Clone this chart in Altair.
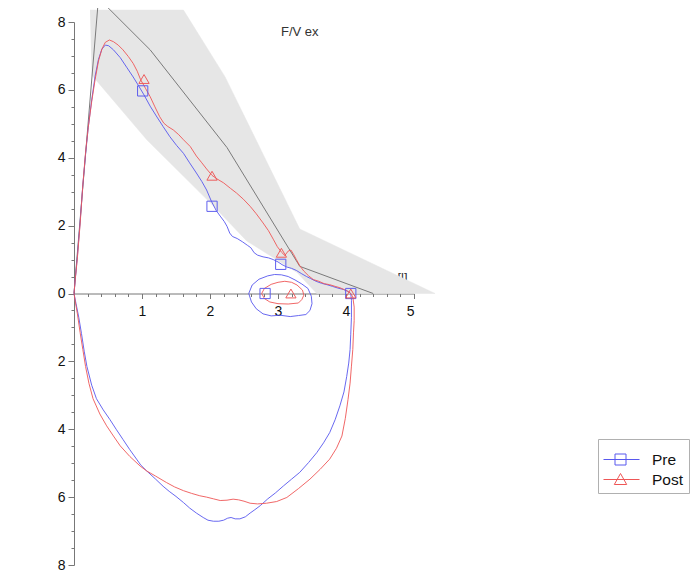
import altair as alt
import pandas as pd

# ---------------- data (volume [l], flow [l/s]) ----------------
pre_loop_v = [0.00,0.02,0.05,0.09,0.13,0.17,0.21,0.26,0.31,0.36,0.41,0.46,0.51,0.58,0.68,0.78,0.87,0.95,1.03,1.12,1.22,1.31,1.41,1.51,1.61,1.70,1.80,1.88,1.95,2.02,2.09,2.15,2.21,2.25,2.29,2.33,2.40,2.48,2.55,2.60,2.65,2.70,2.78,2.86,2.93,3.00,3.06,3.13,3.20,3.27,3.35,3.42,3.48,3.56,3.64,3.72,3.80,3.88,3.96,4.02,4.07,
              4.08,4.08,4.07,4.06,4.04,4.01,3.97,3.91,3.84,3.76,3.67,3.57,3.45,3.32,3.20,3.08,2.96,2.85,2.74,2.66,2.59,2.52,2.44,2.37,2.31,2.26,2.20,2.13,2.05,1.97,1.90,1.80,1.70,1.61,1.50,1.40,1.31,1.20,1.07,0.98,0.92,0.82,0.72,0.62,0.53,0.43,0.33,0.26,0.19,0.15,0.11,0.07,0.03,0.00]
pre_loop_f = [0.00,0.45,1.10,2.10,3.20,4.10,4.90,5.70,6.40,6.90,7.20,7.32,7.30,7.18,6.95,6.65,6.38,6.12,5.85,5.52,5.20,4.92,4.62,4.36,4.13,3.85,3.55,3.30,3.05,2.72,2.45,2.28,2.12,1.98,1.78,1.68,1.62,1.52,1.42,1.35,1.20,1.13,1.08,1.05,1.00,0.93,0.85,0.78,0.74,0.68,0.58,0.50,0.44,0.36,0.30,0.26,0.21,0.16,0.12,0.07,0.00,
              -0.20,-0.70,-1.20,-1.65,-2.05,-2.45,-2.90,-3.31,-3.72,-4.10,-4.40,-4.69,-4.98,-5.27,-5.47,-5.67,-5.88,-6.05,-6.25,-6.37,-6.47,-6.58,-6.64,-6.64,-6.60,-6.62,-6.68,-6.71,-6.71,-6.68,-6.60,-6.47,-6.32,-6.16,-5.98,-5.83,-5.68,-5.47,-5.23,-5.05,-4.88,-4.60,-4.30,-4.00,-3.72,-3.43,-3.10,-2.70,-2.15,-1.70,-1.18,-0.70,-0.30,0.00]

post_loop_v = [0.00,0.02,0.05,0.09,0.13,0.17,0.21,0.26,0.31,0.36,0.41,0.46,0.52,0.58,0.65,0.72,0.80,0.87,0.93,0.98,1.05,1.12,1.19,1.26,1.32,1.38,1.46,1.54,1.61,1.71,1.80,1.88,1.95,2.03,2.10,2.20,2.30,2.39,2.49,2.59,2.68,2.78,2.86,2.93,2.99,3.05,3.10,3.15,3.19,3.23,3.27,3.32,3.38,3.45,3.52,3.60,3.68,3.76,3.84,3.91,3.98,4.03,4.07,
               4.10,4.12,4.12,4.11,4.10,4.08,4.06,4.03,3.99,3.94,3.86,3.76,3.62,3.47,3.30,3.13,2.98,2.83,2.70,2.59,2.50,2.42,2.34,2.25,2.15,2.05,1.95,1.85,1.73,1.61,1.48,1.36,1.20,1.07,0.97,0.82,0.68,0.58,0.48,0.38,0.28,0.22,0.17,0.13,0.09,0.05,0.02,0.00]
post_loop_f = [0.00,0.45,1.05,2.05,3.20,4.15,4.90,5.65,6.30,6.85,7.20,7.40,7.47,7.42,7.32,7.18,6.98,6.78,6.55,6.30,6.05,5.80,5.50,5.21,5.02,4.92,4.82,4.68,4.53,4.33,4.05,3.85,3.67,3.48,3.38,3.26,3.10,2.96,2.78,2.57,2.35,2.08,1.85,1.60,1.38,1.22,1.12,1.25,1.28,1.15,1.00,0.82,0.66,0.52,0.41,0.36,0.29,0.26,0.21,0.17,0.11,0.06,0.00,
               -0.10,-0.40,-0.80,-1.16,-1.65,-2.14,-2.64,-3.12,-3.68,-4.20,-4.56,-4.88,-5.18,-5.47,-5.75,-6.01,-6.13,-6.18,-6.20,-6.18,-6.12,-6.08,-6.06,-6.09,-6.10,-6.05,-6.00,-5.96,-5.89,-5.81,-5.70,-5.57,-5.38,-5.23,-5.08,-4.80,-4.49,-4.20,-3.90,-3.55,-3.10,-2.65,-2.15,-1.65,-1.15,-0.60,-0.25,0.00]

pre_tidal_v = [2.57,2.62,2.72,2.85,2.95,3.05,3.15,3.25,3.35,3.44,3.49,3.50,3.47,3.41,3.30,3.18,3.03,2.90,2.78,2.68,2.61,2.57]
pre_tidal_f = [0.00,0.25,0.42,0.52,0.56,0.55,0.50,0.40,0.28,0.15,-0.08,-0.30,-0.50,-0.62,-0.65,-0.68,-0.64,-0.66,-0.60,-0.45,-0.25,0.00]
post_tidal_v = [2.76,2.80,2.90,3.00,3.10,3.20,3.28,3.36,3.38,3.35,3.30,3.15,3.00,2.88,2.80,2.76]
post_tidal_f = [0.00,0.15,0.27,0.33,0.36,0.33,0.25,0.10,-0.05,-0.18,-0.28,-0.31,-0.30,-0.25,-0.15,0.00]

pre_mark_v = [1.01, 2.03, 3.04, 2.81, 4.07]
pre_mark_f = [5.97, 2.57, 0.86, 0.00, 0.00]
post_mark_v = [1.03, 2.03, 3.05, 3.19, 4.07]
post_mark_f = [6.32, 3.47, 1.20, 0.00, 0.00]

pred_v = [0.00, 0.36, 1.12, 2.25, 3.32, 4.40]
pred_f = [0.00, 8.70, 7.18, 4.30, 0.80, 0.00]

band_v = [0.235, 1.61, 2.22, 3.32, 5.31, 3.57, 3.28, 2.54, 2.03, 1.07, 0.26]
band_f = [8.35, 8.35, 6.39, 1.90, 0.00, 0.00, 0.62, 1.55, 2.62, 4.53, 6.44]

series_names = ["Pre", "Post"]
series_colors = ["#5858ee", "#ee5656"]
title_text = "F/V ex"
title_v, title_f = 3.32, 7.70
x_title = "[l]"

x_major = [1, 2, 3, 4, 5]
x_minor = [round(i * 0.2, 1) for i in range(1, 26) if i % 5 != 0]
y_major = [-8, -6, -4, -2, 0, 2, 4, 6, 8]
y_minor = [i * 0.5 for i in range(-16, 17) if i % 4 != 0]

# ---------------- tables ----------------
rows = []
for s, part, vs, fs in [("Pre", "loop", pre_loop_v, pre_loop_f),
                        ("Pre", "tidal", pre_tidal_v, pre_tidal_f),
                        ("Post", "loop", post_loop_v, post_loop_f),
                        ("Post", "tidal", post_tidal_v, post_tidal_f)]:
    for i, (v, f) in enumerate(zip(vs, fs)):
        rows.append({"series": s, "part": s + part, "idx": i, "v": v, "f": f})
curves = pd.DataFrame(rows)

marks_pre = pd.DataFrame({"series": "Pre", "v": pre_mark_v, "f": pre_mark_f})
marks_post = pd.DataFrame({"series": "Post", "v": post_mark_v, "f": post_mark_f})
marks = pd.concat([marks_pre, marks_post], ignore_index=True)

pred = pd.DataFrame({"v": pred_v, "f": pred_f, "idx": range(len(pred_v))})
band = pd.DataFrame({"v": band_v, "f": band_f, "idx": range(len(band_v))})
title_df = pd.DataFrame({"v": [title_v], "f": [title_f], "t": [title_text]})

W, H = 340, 543
AX_COLOR = "#777777"
FONT = "Liberation Sans"

xs = alt.Scale(domain=[0, 5], nice=False, zero=False)
ys = alt.Scale(domain=[-8, 8], nice=False, zero=False)
cs = alt.Scale(domain=series_names, range=series_colors)

x_axis_major = alt.Axis(values=x_major, orient="bottom", offset=-H / 2, tickSize=5,
                        labelFontSize=14, labelFont=FONT, labelColor="#111",
                        labelPadding=6, domainColor=AX_COLOR, tickColor=AX_COLOR,
                        grid=False, title=x_title, titleX=328, titleY=-16,
                        titleAlign="center", titleBaseline="middle", titleAngle=0,
                        titleFontSize=13, titleFontWeight="normal", titleFont=FONT,
                        titleColor="#333")
y_axis_major = alt.Axis(values=y_major, orient="left", tickSize=6, labelExpr="abs(datum.value)",
                        labelFontSize=14, labelFont=FONT, labelColor="#111", labelPadding=3,
                        domainColor=AX_COLOR, tickColor=AX_COLOR, grid=False, title=None)
x_axis_minor = alt.Axis(values=x_minor, orient="bottom", offset=-H / 2, tickSize=3,
                        labels=False, domain=False, tickColor=AX_COLOR, grid=False, title=None)
y_axis_minor = alt.Axis(values=y_minor, orient="left", tickSize=3, labels=False,
                        domain=False, tickColor=AX_COLOR, grid=False, title=None)

band_layer = alt.Chart(band).mark_line(fill="#e6e6e6", stroke="#e6e6e6", strokeWidth=0.5).encode(
    x=alt.X("v:Q", scale=xs, axis=x_axis_major),
    y=alt.Y("f:Q", scale=ys, axis=y_axis_major),
    order="idx:Q")

pred_layer = alt.Chart(pred).mark_line(color="#7a7a7a", strokeWidth=1).encode(
    x=alt.X("v:Q", scale=xs, axis=x_axis_minor),
    y=alt.Y("f:Q", scale=ys, axis=y_axis_minor),
    order="idx:Q")

curve_layer = alt.Chart(curves).mark_line(strokeWidth=1, opacity=0.9).encode(
    x=alt.X("v:Q", scale=xs, axis=None),
    y=alt.Y("f:Q", scale=ys, axis=None),
    color=alt.Color("series:N", scale=cs, legend=None),
    detail="part:N",
    order="idx:Q")

marker_layer = alt.Chart(marks).mark_point(filled=False, size=105, strokeWidth=1, opacity=0.95).encode(
    x=alt.X("v:Q", scale=xs, axis=None),
    y=alt.Y("f:Q", scale=ys, axis=None),
    color=alt.Color("series:N", scale=cs, legend=None),
    shape=alt.Shape("series:N", scale=alt.Scale(domain=series_names, range=["square", "triangle-up"]),
                    legend=None))

# legend: one single-entry legend per series, stacked; the lower one carries the frame
LEG_X, LEG_Y = 524, 417
sym_pre = "M-1.0,0H2.6M0.15,-0.55H1.25V0.55H0.15Z"
sym_post = "M-1.0,0H2.6M0.7,-0.6L1.32,0.5H0.08Z"

legend_pre_layer = alt.Chart(marks_pre).mark_point(filled=False, opacity=0).encode(
    x=alt.X("v:Q", scale=xs, axis=None),
    y=alt.Y("f:Q", scale=ys, axis=None),
    color=alt.Color("series:N",
                    scale=alt.Scale(domain=[series_names[0]], range=[series_colors[0]]),
                    legend=alt.Legend(title=None, symbolType=sym_pre, legendX=LEG_X, legendY=LEG_Y + 5,
                                      orient="none")))

legend_post_layer = alt.Chart(marks_post).mark_point(filled=False, opacity=0).encode(
    x=alt.X("v:Q", scale=xs, axis=None),
    y=alt.Y("f:Q", scale=ys, axis=None),
    color=alt.Color("series:N",
                    scale=alt.Scale(domain=[series_names[1]], range=[series_colors[1]]),
                    legend=alt.Legend(title="\u00a0", titleFontSize=16, titlePadding=9,
                                      symbolType=sym_post, legendX=LEG_X, legendY=LEG_Y,
                                      orient="none", strokeColor="#b0b0b0")))

title_layer = alt.Chart(title_df).mark_text(fontSize=13, font=FONT, color="#333").encode(
    x=alt.X("v:Q", scale=xs, axis=None),
    y=alt.Y("f:Q", scale=ys, axis=None),
    text="t:N")

chart = alt.layer(band_layer, pred_layer, curve_layer, marker_layer,
                  legend_pre_layer, legend_post_layer, title_layer).resolve_axis(
    x="independent", y="independent").resolve_scale(color="independent", shape="independent").properties(
    width=W, height=H, autosize=alt.AutoSizeParams(type="none"),
    padding={"left": 66, "top": 14, "right": 277, "bottom": 8}
).configure_view(strokeWidth=0).configure_legend(
    symbolSize=400, symbolStrokeWidth=1, symbolOpacity=1, symbolFillColor="transparent",
    labelFont=FONT, labelFontSize=15.5, labelColor="#111", labelOffset=28,
    padding=5, rowPadding=0, cornerRadius=0)

chart.save("out.html", embed_options={"renderer": "svg", "actions": False})
